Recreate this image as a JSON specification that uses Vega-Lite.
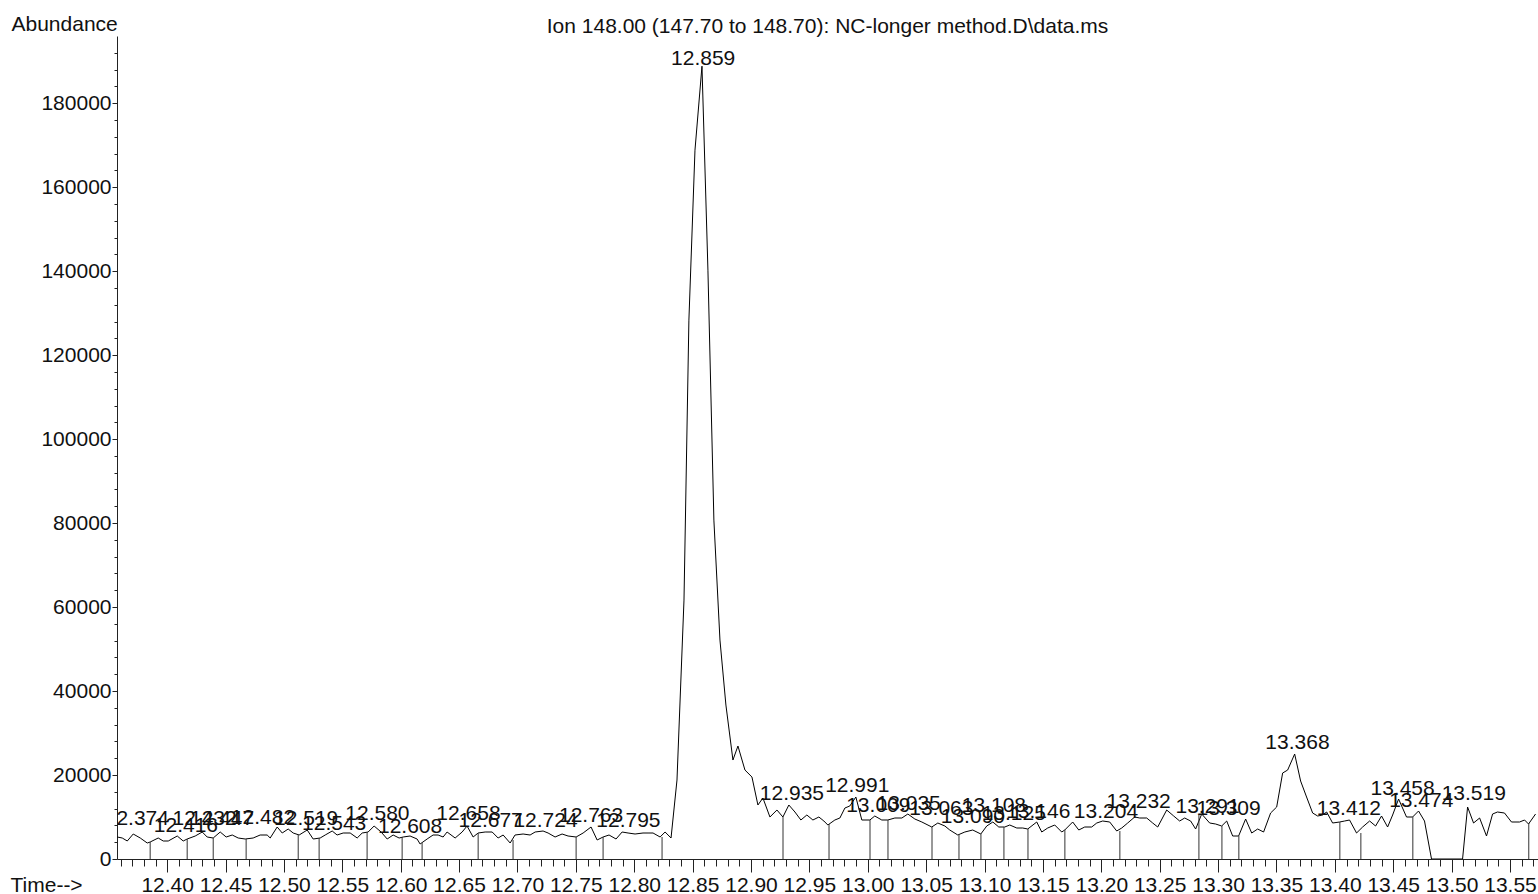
{
  "$schema": "https://vega.github.io/schema/vega-lite/v6.json",
  "width": 1421,
  "height": 823,
  "autosize": {"type": "none"},
  "padding": {"left": 117, "top": 36, "right": 0, "bottom": 35},
  "background": "white",
  "config": {
    "font": "Liberation Sans",
    "view": {"stroke": null},
    "axis": {"labelFont": "Liberation Sans", "titleFont": "Liberation Sans", "labelColor": "#111", "titleColor": "#111", "domainColor": "#222", "tickColor": "#222", "grid": false}
  },
  "title": {
    "text": "Ion 148.00 (147.70 to 148.70): NC-longer method.D\\data.ms",
    "anchor": "middle",
    "frame": "group",
    "fontSize": 21,
    "fontWeight": "normal",
    "font": "Liberation Sans",
    "color": "#111",
    "baseline": "alphabetic",
    "offset": 4,
    "dy": 45
  },
  "datasets": {
    "trace": [
      {"t": 12.3572, "v": 5238}, {"t": 12.3615, "v": 5000}, {"t": 12.3658, "v": 4286}, {"t": 12.3709, "v": 5952},
      {"t": 12.3769, "v": 5000}, {"t": 12.3829, "v": 3810}, {"t": 12.3854, "v": 4048}, {"t": 12.3923, "v": 5000},
      {"t": 12.3966, "v": 4286}, {"t": 12.4009, "v": 4286}, {"t": 12.4086, "v": 5476}, {"t": 12.4137, "v": 4286},
      {"t": 12.4171, "v": 4762}, {"t": 12.4240, "v": 5476}, {"t": 12.4300, "v": 6429}, {"t": 12.4342, "v": 5238},
      {"t": 12.4394, "v": 5000}, {"t": 12.4454, "v": 6429}, {"t": 12.4505, "v": 5238}, {"t": 12.4557, "v": 5714},
      {"t": 12.4608, "v": 5000}, {"t": 12.4668, "v": 4762}, {"t": 12.4736, "v": 5000}, {"t": 12.4796, "v": 5714},
      {"t": 12.4856, "v": 5714}, {"t": 12.4882, "v": 5000}, {"t": 12.4942, "v": 7619}, {"t": 12.4985, "v": 6190},
      {"t": 12.5036, "v": 7143}, {"t": 12.5079, "v": 6190}, {"t": 12.5130, "v": 5714}, {"t": 12.5199, "v": 6905},
      {"t": 12.5250, "v": 4762}, {"t": 12.5310, "v": 5000}, {"t": 12.5353, "v": 5714}, {"t": 12.5413, "v": 6667},
      {"t": 12.5455, "v": 5714}, {"t": 12.5507, "v": 6190}, {"t": 12.5567, "v": 6190}, {"t": 12.5627, "v": 5000},
      {"t": 12.5670, "v": 6190}, {"t": 12.5721, "v": 6429}, {"t": 12.5772, "v": 7857}, {"t": 12.5832, "v": 6429},
      {"t": 12.5884, "v": 4762}, {"t": 12.5935, "v": 5714}, {"t": 12.5986, "v": 5000}, {"t": 12.6021, "v": 5238},
      {"t": 12.6080, "v": 5476}, {"t": 12.6140, "v": 4762}, {"t": 12.6166, "v": 3571}, {"t": 12.6226, "v": 4762},
      {"t": 12.6277, "v": 5714}, {"t": 12.6320, "v": 5714}, {"t": 12.6363, "v": 5238}, {"t": 12.6397, "v": 6429},
      {"t": 12.6466, "v": 5000}, {"t": 12.6526, "v": 6429}, {"t": 12.6568, "v": 7857}, {"t": 12.6620, "v": 5238},
      {"t": 12.6663, "v": 6190}, {"t": 12.6723, "v": 6429}, {"t": 12.6783, "v": 6429}, {"t": 12.6834, "v": 5000},
      {"t": 12.6877, "v": 5714}, {"t": 12.6937, "v": 3810}, {"t": 12.6979, "v": 5714}, {"t": 12.7048, "v": 5952},
      {"t": 12.7108, "v": 5714}, {"t": 12.7151, "v": 6429}, {"t": 12.7219, "v": 6667}, {"t": 12.7262, "v": 6190},
      {"t": 12.7322, "v": 5238}, {"t": 12.7382, "v": 5952}, {"t": 12.7433, "v": 5476}, {"t": 12.7502, "v": 5238},
      {"t": 12.7562, "v": 6190}, {"t": 12.7630, "v": 7619}, {"t": 12.7682, "v": 4524}, {"t": 12.7733, "v": 5238},
      {"t": 12.7784, "v": 5714}, {"t": 12.7844, "v": 4762}, {"t": 12.7896, "v": 6429}, {"t": 12.7947, "v": 6190},
      {"t": 12.8007, "v": 5952}, {"t": 12.8075, "v": 6190}, {"t": 12.8118, "v": 6190}, {"t": 12.8161, "v": 6190},
      {"t": 12.8221, "v": 5238}, {"t": 12.8264, "v": 6429}, {"t": 12.8315, "v": 5000}, {"t": 12.8366, "v": 18810},
      {"t": 12.8426, "v": 61667}, {"t": 12.8468, "v": 128333}, {"t": 12.8520, "v": 168810}, {"t": 12.8580, "v": 188810},
      {"t": 12.8631, "v": 140238}, {"t": 12.8682, "v": 80714}, {"t": 12.8734, "v": 52143}, {"t": 12.8785, "v": 36667},
      {"t": 12.8845, "v": 23571}, {"t": 12.8888, "v": 26905}, {"t": 12.8948, "v": 21190}, {"t": 12.9008, "v": 19524},
      {"t": 12.9059, "v": 12857}, {"t": 12.9102, "v": 14524}, {"t": 12.9162, "v": 10000}, {"t": 12.9222, "v": 11667},
      {"t": 12.9273, "v": 10000}, {"t": 12.9324, "v": 12857}, {"t": 12.9376, "v": 11190}, {"t": 12.9427, "v": 9286},
      {"t": 12.9478, "v": 10476}, {"t": 12.9530, "v": 9286}, {"t": 12.9581, "v": 10000}, {"t": 12.9624, "v": 9048},
      {"t": 12.9658, "v": 8095}, {"t": 12.9718, "v": 9286}, {"t": 12.9761, "v": 9762}, {"t": 12.9804, "v": 12143},
      {"t": 12.9846, "v": 12619}, {"t": 12.9898, "v": 14762}, {"t": 12.9949, "v": 9286}, {"t": 13.0018, "v": 9286},
      {"t": 13.0060, "v": 10238}, {"t": 13.0120, "v": 9286}, {"t": 13.0172, "v": 9286}, {"t": 13.0232, "v": 9762},
      {"t": 13.0292, "v": 9762}, {"t": 13.0343, "v": 10714}, {"t": 13.0403, "v": 9524}, {"t": 13.0463, "v": 8810},
      {"t": 13.0548, "v": 7619}, {"t": 13.0600, "v": 8571}, {"t": 13.0660, "v": 7857}, {"t": 13.0702, "v": 6905},
      {"t": 13.0771, "v": 5714}, {"t": 13.0831, "v": 6429}, {"t": 13.0899, "v": 6905}, {"t": 13.0968, "v": 5952},
      {"t": 13.1019, "v": 7857}, {"t": 13.1071, "v": 8810}, {"t": 13.1122, "v": 7619}, {"t": 13.1173, "v": 7619},
      {"t": 13.1216, "v": 8095}, {"t": 13.1276, "v": 7381}, {"t": 13.1327, "v": 7381}, {"t": 13.1370, "v": 7143},
      {"t": 13.1447, "v": 8810}, {"t": 13.1490, "v": 6429}, {"t": 13.1541, "v": 7381}, {"t": 13.1601, "v": 8095},
      {"t": 13.1661, "v": 6429}, {"t": 13.1687, "v": 6905}, {"t": 13.1755, "v": 8810}, {"t": 13.1807, "v": 6905},
      {"t": 13.1858, "v": 7619}, {"t": 13.1918, "v": 7619}, {"t": 13.1961, "v": 8571}, {"t": 13.2012, "v": 9048},
      {"t": 13.2072, "v": 8810}, {"t": 13.2132, "v": 6667}, {"t": 13.2175, "v": 7381}, {"t": 13.2226, "v": 8571},
      {"t": 13.2286, "v": 10000}, {"t": 13.2329, "v": 9762}, {"t": 13.2389, "v": 9762}, {"t": 13.2440, "v": 8571},
      {"t": 13.2483, "v": 7619}, {"t": 13.2560, "v": 11667}, {"t": 13.2620, "v": 10238}, {"t": 13.2671, "v": 9048},
      {"t": 13.2714, "v": 9762}, {"t": 13.2765, "v": 9048}, {"t": 13.2808, "v": 7143}, {"t": 13.2860, "v": 10714},
      {"t": 13.2928, "v": 8571}, {"t": 13.2979, "v": 8333}, {"t": 13.3031, "v": 7857}, {"t": 13.3074, "v": 9048},
      {"t": 13.3125, "v": 5476}, {"t": 13.3176, "v": 5476}, {"t": 13.3236, "v": 9524}, {"t": 13.3288, "v": 6190},
      {"t": 13.3339, "v": 7143}, {"t": 13.3390, "v": 6429}, {"t": 13.3450, "v": 10952}, {"t": 13.3502, "v": 12381},
      {"t": 13.3553, "v": 20476}, {"t": 13.3596, "v": 21190}, {"t": 13.3656, "v": 25000}, {"t": 13.3707, "v": 18571},
      {"t": 13.3758, "v": 14762}, {"t": 13.3810, "v": 10952}, {"t": 13.3853, "v": 10238}, {"t": 13.3895, "v": 10476},
      {"t": 13.3930, "v": 11190}, {"t": 13.3981, "v": 8571}, {"t": 13.4041, "v": 8810}, {"t": 13.4084, "v": 9048},
      {"t": 13.4126, "v": 9286}, {"t": 13.4186, "v": 6190}, {"t": 13.4238, "v": 7619}, {"t": 13.4298, "v": 9048},
      {"t": 13.4349, "v": 7857}, {"t": 13.4400, "v": 10238}, {"t": 13.4452, "v": 7619}, {"t": 13.4495, "v": 10476},
      {"t": 13.4546, "v": 14286}, {"t": 13.4614, "v": 10000}, {"t": 13.4666, "v": 10000}, {"t": 13.4717, "v": 11429},
      {"t": 13.4768, "v": 9048}, {"t": 13.4828, "v": 0}, {"t": 13.5094, "v": 0}, {"t": 13.5137, "v": 12381},
      {"t": 13.5188, "v": 8571}, {"t": 13.5240, "v": 9762}, {"t": 13.5299, "v": 5476}, {"t": 13.5351, "v": 10714},
      {"t": 13.5393, "v": 11190}, {"t": 13.5453, "v": 10952}, {"t": 13.5513, "v": 8810}, {"t": 13.5582, "v": 8810},
      {"t": 13.5625, "v": 9286}, {"t": 13.5659, "v": 8333}, {"t": 13.5719, "v": 10714}
    ],
    "drops": [
      {"t": 12.3854, "v": 4048}, {"t": 12.4171, "v": 4762}, {"t": 12.4394, "v": 5000}, {"t": 12.4676, "v": 4762},
      {"t": 12.5122, "v": 5714}, {"t": 12.5301, "v": 5000}, {"t": 12.5712, "v": 6429}, {"t": 12.6012, "v": 5238},
      {"t": 12.6183, "v": 3810}, {"t": 12.6663, "v": 6190}, {"t": 12.6962, "v": 4524}, {"t": 12.7502, "v": 5238},
      {"t": 12.7733, "v": 5238}, {"t": 12.8238, "v": 5238}, {"t": 12.9274, "v": 10000}, {"t": 12.9668, "v": 8333},
      {"t": 13.0019, "v": 9286}, {"t": 13.0173, "v": 9286}, {"t": 13.0550, "v": 7619}, {"t": 13.0781, "v": 5714},
      {"t": 13.0969, "v": 5952}, {"t": 13.1166, "v": 7619}, {"t": 13.1372, "v": 7143}, {"t": 13.1688, "v": 6905},
      {"t": 13.2159, "v": 6667}, {"t": 13.2836, "v": 10476}, {"t": 13.3033, "v": 7857}, {"t": 13.3178, "v": 5476},
      {"t": 13.4043, "v": 8810}, {"t": 13.4223, "v": 6190}, {"t": 13.4668, "v": 10000}, {"t": 13.5661, "v": 8571}
    ],
    "labels": [
      {"t": 12.374, "h": 8095, "label": "12.374"}, {"t": 12.416, "h": 6429, "label": "12.416"},
      {"t": 12.432, "h": 8095, "label": "12.432"}, {"t": 12.447, "h": 8095, "label": "12.447"},
      {"t": 12.482, "h": 8333, "label": "12.482"}, {"t": 12.519, "h": 8095, "label": "12.519"},
      {"t": 12.543, "h": 6905, "label": "12.543"}, {"t": 12.580, "h": 9286, "label": "12.580"},
      {"t": 12.608, "h": 6190, "label": "12.608"}, {"t": 12.658, "h": 9286, "label": "12.658"},
      {"t": 12.677, "h": 7619, "label": "12.677"}, {"t": 12.724, "h": 7619, "label": "12.724"},
      {"t": 12.763, "h": 8810, "label": "12.763"}, {"t": 12.795, "h": 7619, "label": "12.795"},
      {"t": 12.859, "h": 189048, "label": "12.859"}, {"t": 12.935, "h": 14048, "label": "12.935"},
      {"t": 12.991, "h": 15952, "label": "12.991"}, {"t": 13.009, "h": 11190, "label": "13.009"},
      {"t": 13.035, "h": 11667, "label": "13.035"}, {"t": 13.063, "h": 10476, "label": "13.063"},
      {"t": 13.090, "h": 8571, "label": "13.090"}, {"t": 13.108, "h": 11190, "label": "13.108"},
      {"t": 13.125, "h": 9286, "label": "13.125"}, {"t": 13.146, "h": 9762, "label": "13.146"},
      {"t": 13.204, "h": 9762, "label": "13.204"}, {"t": 13.232, "h": 12143, "label": "13.232"},
      {"t": 13.291, "h": 10952, "label": "13.291"}, {"t": 13.309, "h": 10476, "label": "13.309"},
      {"t": 13.368, "h": 26190, "label": "13.368"}, {"t": 13.412, "h": 10476, "label": "13.412"},
      {"t": 13.458, "h": 15238, "label": "13.458"}, {"t": 13.474, "h": 12381, "label": "13.474"},
      {"t": 13.519, "h": 14048, "label": "13.519"}
    ]
  },
  "layer": [
    {
      "data": {"name": "trace"},
      "mark": {"type": "line", "color": "#000", "strokeWidth": 1, "clip": true},
      "encoding": {
        "x": {"field": "t", "type": "quantitative",
          "scale": {"domain": [12.357, 13.574], "nice": false, "zero": false},
          "axis": {"orient": "bottom", "title": "Time-->", "titleFontSize": 21, "titleFontWeight": "normal",
            "titleAnchor": "start", "titleAlign": "left", "titleBaseline": "alphabetic", "titleX": -107, "titleY": 32,
            "values": [12.40, 12.45, 12.50, 12.55, 12.60, 12.65, 12.70, 12.75, 12.80, 12.85, 12.90, 12.95, 13.00, 13.05, 13.10, 13.15, 13.20, 13.25, 13.30, 13.35, 13.40, 13.45, 13.50, 13.55],
            "format": ".2f", "labelFontSize": 21, "labelBaseline": "alphabetic", "labelPadding": 19, "tickSize": 13,
            "labelOverlap": false, "labelFlush": false, "domainWidth": 1, "tickWidth": 1}},
        "y": {"field": "v", "type": "quantitative",
          "scale": {"domain": [0, 196000], "nice": false, "zero": true},
          "axis": {"orient": "left", "title": "Abundance", "titleFontSize": 21, "titleFontWeight": "normal",
            "titleAngle": 0, "titleAnchor": "end", "titleAlign": "left", "titleBaseline": "alphabetic", "titleX": -106, "titleY": -6,
            "values": [0, 20000, 40000, 60000, 80000, 100000, 120000, 140000, 160000, 180000],
            "format": "d", "labelFontSize": 21, "labelPadding": 1, "tickSize": 5, "labelOverlap": false, "labelFlush": false,
            "domainWidth": 1, "tickWidth": 1}}
      }
    },
    {
      "data": {"name": "drops"},
      "mark": {"type": "rule", "color": "#333", "strokeWidth": 1, "clip": true},
      "encoding": {
        "x": {"field": "t", "type": "quantitative",
          "axis": {"orient": "bottom", "title": null, "labels": false, "domain": false, "tickSize": 7, "tickWidth": 1,
            "values": [12.36, 12.37, 12.38, 12.39, 12.41, 12.42, 12.43, 12.44, 12.46, 12.47, 12.48, 12.49, 12.51, 12.52, 12.53, 12.54, 12.56, 12.57, 12.58, 12.59, 12.61, 12.62, 12.63, 12.64, 12.66, 12.67, 12.68, 12.69, 12.71, 12.72, 12.73, 12.74, 12.76, 12.77, 12.78, 12.79, 12.81, 12.82, 12.83, 12.84, 12.86, 12.87, 12.88, 12.89, 12.91, 12.92, 12.93, 12.94, 12.96, 12.97, 12.98, 12.99, 13.01, 13.02, 13.03, 13.04, 13.06, 13.07, 13.08, 13.09, 13.11, 13.12, 13.13, 13.14, 13.16, 13.17, 13.18, 13.19, 13.21, 13.22, 13.23, 13.24, 13.26, 13.27, 13.28, 13.29, 13.31, 13.32, 13.33, 13.34, 13.36, 13.37, 13.38, 13.39, 13.41, 13.42, 13.43, 13.44, 13.46, 13.47, 13.48, 13.49, 13.51, 13.52, 13.53, 13.54, 13.56, 13.57]}},
        "y": {"field": "v", "type": "quantitative",
          "axis": {"orient": "left", "title": null, "labels": false, "domain": false, "tickSize": 3, "tickWidth": 1,
            "values": [4000, 8000, 12000, 16000, 24000, 28000, 32000, 36000, 44000, 48000, 52000, 56000, 64000, 68000, 72000, 76000, 84000, 88000, 92000, 96000, 104000, 108000, 112000, 116000, 124000, 128000, 132000, 136000, 144000, 148000, 152000, 156000, 164000, 168000, 172000, 176000, 184000, 188000, 192000]}},
        "y2": {"datum": 0}
      }
    },
    {
      "data": {"name": "labels"},
      "mark": {"type": "text", "fontSize": 21, "font": "Liberation Sans", "color": "#111", "align": "center", "baseline": "alphabetic", "clip": true},
      "encoding": {
        "x": {"field": "t", "type": "quantitative", "axis": null},
        "y": {"field": "h", "type": "quantitative", "axis": null},
        "text": {"field": "label", "type": "nominal"}
      }
    }
  ],
  "resolve": {"axis": {"x": "independent", "y": "independent"}}
}
